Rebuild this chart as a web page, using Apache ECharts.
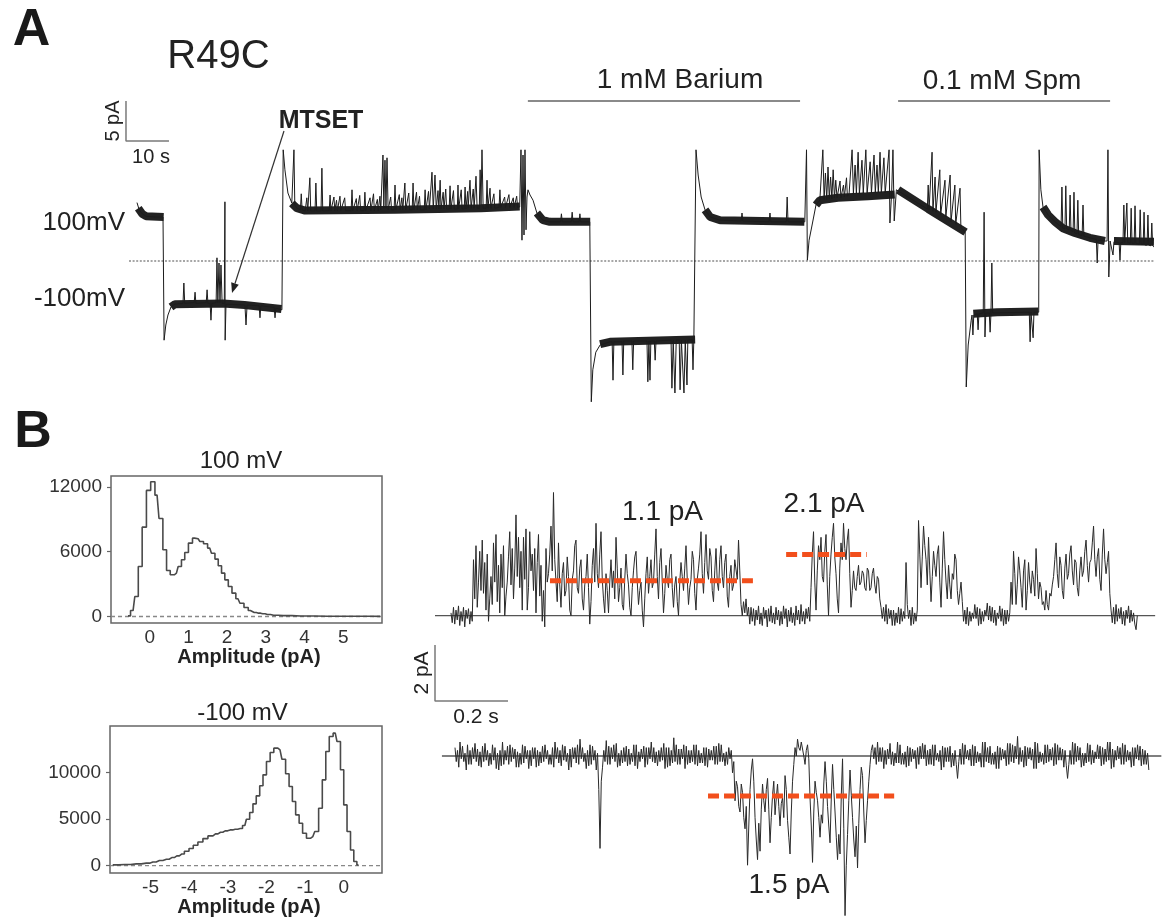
<!DOCTYPE html>
<html><head><meta charset="utf-8">
<script src="https://cdn.jsdelivr.net/npm/echarts@6/dist/echarts.min.js"></script>
<style>html,body{margin:0;padding:0;background:#fff}#c{width:1165px;height:918px}</style>
</head><body><div id="c"></div>
<script>
// ---------------- DATA ----------------
// Panel A: macroscopic trace, [time (s), current (pA)]
const traceA = [
 [0,7.3],[0.5,6.4],[1.2,5.9],[2.1,5.6],[4,5.5],[6.05,5.5],
 [6.28,5.5],[6.3,-9.9],
 [6.7,-8.0],[7.2,-6.75],[7.9,-5.75],[8.8,-5.4],
 [10.7,-5.3],[10.9,-2.75],[11.1,-5.3],
 [13.3,-5.2],[13.5,-3.9],[13.7,-5.3],
 [16.1,-5.2],[16.3,-3.6],[16.5,-5.3],
 [17.0,-5.3],[17.2,-7.4],[17.4,-5.3],
 [18.4,-5.2],[18.6,0.4],[18.8,-5.2],[19.07,-0.25],[19.3,-5.2],[19.53,-0.5],[19.8,-5.3],
 [20.3,-5.3],[20.45,7.4],[20.5,-9.9],[20.7,-5.4],
 [25.1,-5.5],[25.35,-8.0],[25.6,-5.5],
 [28.4,-5.6],[28.6,-7.1],[28.8,-5.6],
 [31.9,-5.8],[32.1,-7.1],[32.3,-5.9],
 [33.7,-6.1],[33.95,-6.1],[34.0,13.9],
 [34.4,11.4],[35.1,8.5],[36.0,7.25],
 [36.3,7.0],[36.5,13.9],[36.7,7.0],
 [37.2,6.6],[38.0,6.4],[38.2,8.4],[38.4,6.4],[39.1,6.25],[39.5,7.9],[39.7,6.25],
 [40.0,6.25],[40.2,10.4],[40.4,6.25],
 [41.4,6.25],[41.6,9.75],[41.8,6.25],
 [42.8,6.25],[43.0,11.6],[43.2,6.25],
 [44.7,6.3],[44.9,8.25],[45.1,6.3],[45.8,8.0],[46.0,6.3],[46.4,7.6],[46.6,6.3],
 [47.0,6.3],[47.2,8.1],[47.4,6.3],[48.3,7.9],[48.5,6.3],
 [49.8,6.3],[50.0,8.9],[50.2,6.3],[51.0,7.8],[51.2,6.3],[51.8,8.2],[52.0,6.3],
 [52.8,6.3],[53.0,8.6],[53.2,6.3],[54.2,7.9],[54.4,6.3],[55.0,8.4],[55.2,6.3],[55.9,7.7],[56.1,6.3],[56.5,8.1],[56.7,6.4],
 [57.0,6.4],[57.2,13.25],[57.4,6.6],[57.67,12.6],[57.9,6.6],[58.14,12.9],[58.4,6.4],[59.0,8.0],[59.2,6.4],
 [59.8,6.4],[60.0,9.5],[60.2,6.4],[61.0,8.3],[61.2,6.4],[61.6,7.9],[61.8,6.4],
 [62.1,6.4],[62.3,9.75],[62.5,6.4],[63.2,8.5],[63.4,6.4],
 [64.0,6.4],[64.2,9.75],[64.4,6.4],[65.0,8.6],[65.2,6.4],[65.7,8.1],[65.9,6.4],
 [66.8,6.4],[67.0,8.9],[67.2,6.4],[67.8,8.7],[68.0,6.5],
 [68.4,6.5],[68.6,11.1],[68.9,6.5],[69.3,10.75],[69.6,6.5],[70.0,8.8],[70.2,6.5],
 [70.3,6.5],[70.5,10.1],[70.7,6.5],[71.2,8.6],[71.4,6.5],[71.8,9.0],[72.0,6.5],
 [72.6,6.5],[72.8,9.4],[73.0,6.5],[73.6,8.8],[73.8,6.5],
 [74.5,6.5],[74.65,9.5],[74.8,6.5],[75.4,8.9],[75.6,6.5],
 [76.1,6.5],[76.3,9.25],[76.5,6.5],[76.9,8.7],[77.0,6.6],
 [77.2,6.6],[77.44,10.1],[77.7,6.6],[78.2,9.0],[78.4,6.6],
 [78.6,6.6],[78.84,10.6],[79.1,6.6],
 [79.6,6.6],[79.8,11.4],[80.0,7.0],[80.23,13.9],[80.5,6.6],
 [81.2,6.6],[81.4,10.1],[81.6,6.6],
 [81.9,6.6],[82.1,9.1],[82.3,6.6],[83.0,8.4],[83.2,6.6],
 [84.2,6.7],[84.4,8.9],[84.6,6.7],[85.5,8.0],[85.7,6.7],[86.5,8.3],[86.7,6.7],[87.5,7.9],[87.7,6.7],[88.3,8.1],[88.5,6.7],
 [89.0,6.75],[89.3,13.9],[89.53,2.6],[89.77,13.25],[90.0,3.25],[90.23,13.9],[90.47,3.9],[90.7,8.0],[90.93,8.9],
 [91.4,8.25],[92.1,7.6],[93.0,6.0],[94.4,5.1],[96.0,4.9],
 [98.5,4.9],[98.7,5.9],[98.9,4.9],
 [101.0,4.9],[101.2,6.1],[101.4,4.9],
 [102.8,4.9],[103.0,5.9],[103.2,4.9],
 [105.3,4.9],[105.6,4.9],[105.65,-17.6],
 [106.0,-13.6],[106.7,-11.4],[107.7,-10.5],[110.0,-10.1],
 [110.5,-10.1],[110.7,-14.9],[110.9,-10.1],
 [112.8,-10.1],[113.0,-14.25],[113.2,-10.0],
 [115.1,-10.0],[115.3,-13.6],[115.5,-10.0],
 [118.6,-10.0],[118.8,-15.1],[119.05,-10.0],[119.3,-14.9],[119.5,-10.0],
 [120.3,-10.0],[120.5,-12.4],[120.7,-10.0],
 [124.2,-9.9],[124.4,-15.9],[124.7,-9.9],[125.1,-16.5],[125.4,-9.9],
 [126.1,-9.9],[126.3,-16.1],[126.6,-9.9],[127.2,-16.5],[127.5,-9.9],[127.9,-15.5],[128.1,-9.9],
 [129.1,-9.8],[129.3,-13.6],[129.5,-9.8],
 [129.9,-9.8],[130.0,13.9],
 [130.5,10.75],[131.2,8.0],[132.1,6.4],[133.3,5.5],[135.6,5.1],
 [140.5,5.0],[140.7,6.0],[140.9,5.0],
 [147.0,4.9],[147.2,6.0],[147.4,4.9],
 [151.0,4.9],[151.2,8.0],[151.4,4.9],
 [155.3,4.9],[155.7,13.9],[155.9,0.1],
 [156.3,2.6],[157.0,4.5],[157.9,7.0],[158.8,7.6],
 [159.2,7.6],[159.5,13.9],[159.8,7.7],[160.1,11.0],[160.4,7.7],[160.7,11.75],[161.0,7.8],[161.3,10.5],[161.6,7.8],[161.9,11.4],[162.2,7.9],[162.5,10.1],[162.8,7.9],
 [163.5,10.0],[163.7,7.9],[164.3,9.5],[164.5,8.0],[165.0,10.4],[165.2,8.1],
 [165.6,8.4],[166.3,13.9],[166.6,8.4],[167.0,12.0],[167.3,8.4],[167.7,13.6],[168.0,8.4],[168.6,12.6],[168.9,8.5],[169.5,13.9],[169.8,8.5],[170.5,12.4],[170.8,8.5],[171.4,13.25],[171.7,8.5],[172.1,12.0],[172.4,8.5],[172.8,13.6],[173.1,8.5],[173.7,12.9],[174.0,8.5],
 [174.4,8.4],[174.9,13.9],[175.1,4.75],[175.5,8.5],[175.8,13.9],[176.1,5.0],[176.3,5.1],[176.6,8.9],
 [177.0,8.9],
 [183.8,6.5],[184.0,9.5],[184.2,6.4],[184.9,13.6],[185.1,6.2],[185.6,10.5],[185.8,6.1],[186.7,11.4],[186.9,5.8],[187.9,10.1],[188.1,5.5],[189.1,10.75],[189.3,4.9],[190.2,9.5],[190.4,4.6],[191.4,9.1],[191.6,4.2],
 [192.6,3.6],[192.8,3.5],[192.85,-15.75],
 [193.3,-10.5],[194.0,-7.4],[194.2,-6.75],[194.4,-9.25],[194.6,-6.75],[195.4,-6.6],[195.6,-8.6],[195.8,-6.6],[196.8,-6.5],[197.0,6.1],[197.2,-9.5],[197.4,-6.5],[198.2,-6.5],[198.4,-8.9],[198.6,-6.5],[198.8,-0.25],[199.0,-6.5],
 [207.5,-6.4],[207.7,-10.1],[207.9,-6.4],[208.4,-9.6],[208.6,-6.4],
 [209.7,-6.4],[209.8,13.9],
 [210.2,8.9],[210.7,6.75],[211.9,5.75],[213.5,4.9],
 [214.9,4.3],[215.1,9.25],[215.3,4.1],[215.8,4.0],[216.0,9.4],[216.2,4.0],[216.8,3.9],[217.0,8.25],[217.2,3.8],[217.7,3.7],[217.9,8.6],[218.1,3.5],[218.6,3.4],[218.8,7.6],[219.0,3.3],[219.8,3.2],[220.0,7.0],[220.2,3.1],
 [221.6,2.9],[223.1,2.7],[223.3,-0.25],[223.5,2.6],
 [225.1,2.5],[225.6,2.5],[225.8,13.9],[226.0,-2.0],[226.3,2.5],[226.98,0.75],[227.2,2.4],
 [228.4,2.3],[228.6,0.1],[228.8,2.3],
 [229.3,2.3],[229.5,7.0],[229.7,2.3],[230.0,2.3],[230.2,7.25],[230.4,2.3],[231.0,2.2],[231.2,6.6],[231.4,2.2],[231.9,2.2],[232.1,6.9],[232.3,2.2],[233.1,2.1],[233.3,6.4],[233.5,2.1],[234.0,2.1],[234.2,6.1],[234.4,2.0],[234.9,2.0],[235.1,5.75],[235.3,2.0],[235.8,1.9],[236.0,4.75],[236.2,1.9],[236.5,1.75]
];
// Panel A: noise band centre lines, one list per recording segment
const bandA = [
 [[0.3,6.6],[1.2,5.9],[2.1,5.6],[6.2,5.5]],
 [[7.9,-5.75],[8.8,-5.4],[20,-5.3],[25,-5.5],[33.6,-6.0]],
 [[36.0,7.2],[37.2,6.6],[39.1,6.3],[60,6.4],[80,6.6],[89,6.8]],
 [[93.0,6.0],[94.4,5.1],[96.0,4.9],[105.4,4.9]],
 [[107.7,-10.4],[110.0,-10.1],[129.8,-9.8]],
 [[132.1,6.4],[133.3,5.5],[135.6,5.1],[155.2,4.9]],
 [[157.9,7.0],[158.8,7.6],[163,7.9],[170,8.1],[176.2,8.3]],
 [[177.0,8.9],[184.0,6.5],[189.1,4.8],[192.7,3.6]],
 [[194.5,-6.6],[200,-6.4],[209.6,-6.3]],
 [[210.7,6.75],[211.9,5.75],[213.5,4.9],[215.3,4.1],[218.1,3.5],[221.6,2.9],[225.1,2.5]],
 [[227.2,2.5],[236.5,2.4]]
];
const scaleBarA = [[-2.56,20],[-2.56,15],[7.44,15]];   // 5 pA, 10 s
const zeroLineA = [[-1.86,0],[236.7,0]];
const bariumBar = [[90.9,20],[154.2,20]];
const spmBar = [[177.0,20],[226.3,20]];

// Panel B histograms
const hist100Centers = [-0.56,-0.43,-0.34,-0.25,-0.14,-0.03,0.08,0.19,0.29,0.39,0.48,0.58,0.69,0.78,0.86,0.95,1.05,1.16,1.25,1.34,1.44,1.55,1.64,1.73,1.81,1.90,1.98,2.08,2.17,2.28,2.38,2.49,2.60,2.70,2.81,2.92,3.04,3.20,3.45,3.90,4.60,5.50,5.95];
const hist100Counts = [60,550,1850,4630,8270,11670,12470,11230,9070,6170,4260,3860,4010,4630,5250,5920,6790,7250,7190,6940,6730,6330,5860,5310,4690,4010,3390,2780,2160,1640,1230,830,550,370,310,250,190,120,80,50,30,20,15];
const hist100XTicks = [0,1,2,3,4,5];
const hist100YTicks = [0,6000,12000];

const histM100Centers = [-5.98,-5.67,-5.37,-5.11,-4.94,-4.77,-4.59,-4.45,-4.32,-4.19,-4.06,-3.95,-3.84,-3.71,-3.58,-3.45,-3.32,-3.19,-3.07,-2.94,-2.81,-2.68,-2.56,-2.48,-2.39,-2.31,-2.22,-2.13,-2.05,-1.95,-1.86,-1.76,-1.65,-1.55,-1.46,-1.37,-1.29,-1.20,-1.11,-1.02,-0.91,-0.80,-0.70,-0.60,-0.51,-0.42,-0.33,-0.22,-0.13,-0.04,0.04,0.13,0.22,0.30,0.38];
const histM100Counts = [70,110,180,260,390,540,680,860,1040,1250,1540,1830,2190,2540,2900,3190,3400,3580,3730,3830,3910,3980,4300,4980,5700,6630,7490,8570,9750,11180,12150,12620,12440,11430,9860,8490,6880,5450,4550,3480,2940,3120,3660,6160,9210,12260,13870,14230,13330,10290,6520,3660,1680,430,70];
const histM100XTicks = [-5,-4,-3,-2,-1,0];
const histM100YTicks = [0,5000,10000];

// Panel B single-channel traces (pA), one sample every B_DT seconds
const B_DT = 0.003425;
const B1_T0 = 0.0438;
const traceB1 = [
 0.1,-0.25,0.3,-0.3,0.2,-0.15,0.35,-0.35,0.15,-0.2,0.3,-0.4,0.2,-0.1,0.25,-0.3,0.15,-0.2,
 2.0,0.6,2.5,0.3,1.2,2.3,0.9,2.7,0.8,1.9,0.2,2.2,-0.2,0.6,1.4,0.4,2.6,1.2,2.9,0.5,1.8,0.1,2.2,1.0,2.5,0.0,0.7,1.2,2.1,3.0,1.1,2.4,0.6,1.7,3.6,1.4,2.8,1.0,2.3,0.2,2.8,1.3,3.1,0.2,1.0,3.0,1.6,2.2,0.9,2.4,0.1,1.9,2.9,0.7,1.8,-0.2,0.9,-0.4,
 2.4,1.2,1.5,2.2,3.2,1.6,4.4,2.0,1.2,0.5,
 2.6,1.1,0.3,1.5,1.9,0.7,0.9,2.1,1.4,0.2,
 0.0,1.3,1.6,2.5,2.7,1.0,0.8,1.7,2.0,0.6,
 0.2,1.1,1.4,2.2,1.0,-0.3,0.5,1.8,2.4,1.2,
 3.3,1.5,1.0,2.2,3.0,1.3,0.6,0.1,1.5,0.9,
 0.1,1.2,2.0,1.0,1.6,0.6,2.8,1.7,0.5,1.0,
 1.7,0.4,0.2,1.3,2.2,1.5,1.1,0.3,0.0,1.0,
 1.6,2.1,2.3,1.2,0.4,0.9,1.2,0.2,-0.4,0.6,
 1.5,2.1,0.8,1.4,2.0,1.0,1.2,2.2,3.1,1.4,
 0.6,1.9,2.4,1.2,0.1,0.8,1.8,1.3,1.0,2.0,
 2.2,1.0,0.3,1.1,1.4,0.5,0.0,1.2,1.9,1.4,
 0.9,1.7,2.5,1.3,0.4,1.0,1.3,2.3,2.0,0.8,
 0.2,1.3,1.7,2.2,3.0,1.5,0.8,1.9,2.9,1.6,
 1.3,2.4,2.1,0.9,0.5,1.6,2.4,1.2,0.9,2.0,
 2.5,1.4,1.0,1.9,2.2,0.7,0.3,1.4,1.8,0.9,
 1.1,2.0,2.0,1.3,2.7,1.6,0.4,0.0,
 0.5,0.1,0.6,0.0,0.3,-0.3,0.3,-0.2,0.25,-0.35,
 0.2,-0.15,0.35,-0.3,0.1,-0.35,0.3,-0.1,0.2,-0.4,
 0.25,-0.2,0.35,-0.25,0.1,-0.3,0.3,-0.15,0.2,-0.35,
 0.15,-0.3,0.35,-0.1,0.25,-0.4,0.2,-0.2,0.3,-0.25,
 0.1,-0.35,0.35,-0.15,0.2,-0.3,0.4,-0.2,0.15,-0.3,
 0.25,-0.1,0.3,-0.2,
 1.0,2.2,3.0,1.2,0.2,1.6,2.5,2.0,2.8,1.4,
 1.2,2.3,2.9,1.1,0.0,1.4,2.2,2.8,3.3,2.1,
 1.5,0.6,0.1,1.7,2.6,2.0,3.3,2.4,2.0,2.7,
 3.1,1.5,0.3,0.9,1.6,1.0,0.9,1.4,1.8,1.1,
 1.2,1.6,
 1.5,1.0,0.9,1.7,1.6,0.9,1.0,1.5,1.7,1.1,0.8,1.4,1.3,0.6,
 0.3,-0.1,0.3,-0.2,0.4,-0.3,0.25,-0.1,0.2,-0.35,
 0.2,-0.35,0.1,-0.25,0.3,-0.3,0.25,-0.2,0.15,-0.1,
 1.9,0.4,-0.1,0.2,-0.35,0.3,-0.3,0.1,-0.2,0.2,
 3.4,2.2,1.0,2.1,3.2,2.5,2.0,1.1,2.8,1.6,
 0.5,1.4,2.3,1.8,1.4,2.2,2.5,1.2,0.3,1.7,
 3.0,2.0,1.2,0.6,1.8,1.1,0.6,1.5,1.3,2.2,
 2.0,0.9,0.4,0.8,1.2,0.5,
 -0.2,0.2,-0.3,0.3,-0.35,0.15,-0.2,0.1,-0.1,0.4,
 -0.1,0.3,-0.35,0.25,-0.3,0.15,-0.2,0.2,0.0,0.45,
 -0.15,0.35,-0.2,0.3,-0.25,0.2,-0.35,0.1,-0.1,0.35,
 -0.2,0.25,-0.35,0.2,-0.3,0.2,-0.2,0.1,
 1.2,0.4,2.3,1.5,0.4,1.1,2.1,1.6,1.0,0.3,
 1.6,2.0,0.2,0.9,1.9,1.2,0.8,1.6,1.3,0.7,
 2.4,1.5,0.6,1.2,1.0,0.4,
 0.5,0.2,0.9,0.4,0.2,0.8,0.7,1.1,
 1.4,2.0,2.6,1.5,1.0,2.1,1.8,0.9,0.6,1.7,
 2.2,1.3,1.5,2.2,2.5,1.6,1.1,2.0,1.9,1.0,
 0.7,1.6,2.1,1.4,1.6,2.3,2.7,1.8,1.2,1.9,
 2.0,2.6,3.2,2.0,1.4,2.1,2.4,1.3,0.9,2.2,
 3.1,2.0,1.5,1.9,2.3,0.8,
 0.2,-0.25,0.3,-0.3,0.4,-0.2,0.25,-0.1,0.3,-0.3,
 0.15,-0.35,0.2,-0.1,0.35,-0.25,0.2,-0.2,0.1,-0.3,
 -0.5,0.0
];
const B2_T0 = 0.0548;
const traceB2 = [
 0.3,-0.2,0.2,-0.4,0.5,-0.1,0.35,-0.2,0.1,-0.5,
 0.4,-0.3,0.2,-0.3,0.3,-0.1,0.45,-0.2,0.25,-0.35,
 0.15,-0.4,0.35,-0.2,0.45,-0.15,0.2,-0.35,0.1,-0.3,
 0.4,-0.15,0.3,-0.45,0.1,-0.5,0.2,-0.35,0.5,-0.3,
 0.2,-0.15,0.35,-0.3,0.4,-0.2,0.3,-0.1,0.25,-0.4,
 0.15,-0.4,0.1,-0.3,0.4,-0.25,0.35,-0.1,0.2,-0.45,
 0.2,-0.35,0.3,-0.1,0.3,-0.4,0.2,-0.35,0.15,-0.25,
 0.35,-0.2,0.4,-0.1,0.2,-0.3,0.05,-0.3,0.3,-0.4,
 0.5,-0.1,0.3,-0.25,0.2,-0.35,0.4,-0.15,0.35,-0.2,
 0.1,-0.5,0.25,-0.4,0.3,-0.1,0.3,-0.25,0.4,-0.3,
 0.6,-0.1,0.3,-0.2,0.1,-0.45,0.2,-0.35,0.4,-0.3,
 0.35,-0.15,0.2,-0.5,0.1,-1.2,-3.3,-0.9,-0.4,0.2,
 -0.2,0.55,-0.3,0.35,-0.3,0.3,-0.1,0.4,-0.2,0.45,
 -0.4,0.1,-0.35,0.2,-0.25,0.3,-0.2,0.35,-0.35,0.25,
 -0.3,0.1,-0.2,0.4,-0.35,0.4,-0.45,0.15,-0.2,0.25,
 -0.1,0.35,-0.4,0.3,-0.3,0.3,-0.1,0.5,-0.2,0.3,
 -0.25,0.15,-0.35,0.2,-0.2,0.3,-0.15,0.45,-0.45,0.3,
 -0.4,0.3,-0.35,0.2,-0.25,0.65,-0.2,0.4,-0.3,0.25,
 -0.3,0.25,-0.1,0.4,-0.45,0.35,-0.3,0.2,-0.25,0.2,
 -0.2,0.4,-0.3,0.4,-0.35,0.2,-0.25,0.1,-0.25,0.3,
 -0.35,0.3,-0.4,0.25,-0.15,0.2,-0.15,0.35,-0.3,0.35,
 -0.3,0.45,-0.2,0.4,-0.2,0.1,-0.35,0.15,-0.3,0.3,
 -0.1,0.2,
 -0.6,-0.2,-1.6,-0.9,-1.1,-1.8,-2.0,-1.0,-1.3,-2.2,
 -2.6,-1.8,-3.9,-2.5,-1.2,-0.5,-0.1,-0.9,-2.2,-3.0,
 -3.7,-2.4,-3.4,-1.9,-1.0,-1.6,-2.0,-1.2,-0.8,-1.9,
 -3.1,-2.2,-1.4,-0.9,-2.1,-1.5,-1.0,-1.8,-2.5,-1.7,
 -1.5,-2.2,-0.7,-1.2,-2.3,-2.9,-3.5,-2.0,-0.9,-0.3,
 0.3,0.0,0.6,0.3,0.2,0.5,0.5,0.0,-0.3,0.2,
 0.4,-0.1,
 -1.5,-2.5,-3.8,-2.0,-0.9,-1.3,-1.6,-2.2,-2.9,-2.1,
 -2.4,-1.0,-0.2,-0.9,-1.8,-2.5,-3.1,-1.5,-0.3,-1.2,
 -2.0,-2.9,-3.7,-2.8,-3.5,-1.4,-0.1,-2.6,-5.7,-3.9,
 -2.8,-1.6,-0.5,-1.4,-2.2,-3.0,-3.6,-2.5,-4.0,-2.4,
 -1.2,-0.4,-0.7,-2.0,-3.1,-2.3,-1.6,-0.9,-0.3,0.2,
 0.4,-0.1,0.3,-0.3,0.5,-0.2,0.3,-0.2,0.3,-0.45,
 0.2,-0.3,0.25,-0.1,0.45,-0.3,0.15,-0.35,0.1,-0.25,
 0.5,-0.25,0.4,-0.3,0.1,-0.3,0.15,-0.4,0.35,-0.35,
 0.3,-0.2,0.25,-0.1,0.2,-0.45,0.3,-0.3,0.35,-0.1,
 0.45,-0.1,0.4,-0.35,0.2,-0.3,0.25,-0.3,0.4,-0.35,
 0.4,-0.15,0.1,-0.2,0.2,-0.5,0.35,-0.4,0.3,-0.2,
 0.3,-0.2,0.35,-0.4,0.1,-0.35,0.2,-0.3,-0.8,-0.2,
 0.25,-0.3,0.45,-0.3,0.4,-0.1,0.2,-0.15,0.25,-0.35,
 0.4,-0.35,0.35,-0.25,0.15,-0.2,0.1,-0.4,0.5,-0.4,
 0.5,-0.2,0.3,-0.25,0.35,-0.3,0.1,-0.3,0.15,-0.45,
 0.35,-0.45,0.3,-0.15,0.25,-0.1,0.2,-0.35,0.45,-0.3,
 0.45,-0.2,0.4,-0.25,0.35,-0.1,0.7,-0.3,0.3,-0.2,
 0.2,-0.4,0.35,-0.35,0.3,-0.1,0.3,-0.15,0.25,-0.45,
 0.5,-0.45,0.45,-0.25,0.15,-0.2,0.1,-0.3,0.4,-0.25,
 0.4,-0.2,0.25,-0.15,0.3,-0.35,0.45,-0.3,0.4,-0.15,
 0.3,-0.15,0.25,-0.4,0.2,-0.35,-0.8,-0.3,0.2,-0.3,
 0.5,-0.3,0.45,-0.2,0.35,-0.15,0.3,-0.4,0.1,-0.35,
 0.1,-0.25,0.45,-0.2,0.4,-0.3,0.2,-0.25,0.15,-0.1,
 0.4,-0.1,0.35,-0.35,0.3,-0.3,0.25,-0.2,0.5,-0.15,
 0.5,-0.45,0.25,-0.4,0.2,-0.15,0.35,-0.1,0.3,-0.3,
 0.45,-0.3,0.4,-0.2,0.2,-0.15,0.15,-0.4,0.3,-0.35,
 0.3,-0.1,0.4,-0.15,0.35,-0.35,0.25,-0.3,0.2,-0.3,
 0.1,-0.5
];
const baseB1 = [[0,0],[1.973,0]];
const baseB2 = [[0.019,0],[1.99,0]];
const scaleBarB = [[0,-1.05],[0,-3.05],[0.2,-3.05]];  // 2 pA, 0.2 s
const levelB1a = [[0.315,1.25],[0.871,1.25]];   // "1.1 pA"
const levelB1b = [[0.962,2.19],[1.183,2.19]];   // "2.1 pA"
const levelB2 = [[0.748,-1.43],[1.258,-1.43]];  // "1.5 pA"

// ---------------- CHART ----------------
const FONT = '"Liberation Sans", Arial, Helvetica, sans-serif';
const TXT = '#222';
const chart = echarts.init(document.getElementById('c'), null, {renderer:'canvas'});

function lineS(data, xi, color, width, extra) {
  return Object.assign({type:'line', xAxisIndex:xi, yAxisIndex:xi, data:data, symbol:'none',
    silent:true, animation:false, clip:false,
    lineStyle:{color:color, width:width}}, extra || {});
}
const hiddenAxis = (gi, min, max) => ({gridIndex:gi, type:'value', min:min, max:max, show:false});

const grids = [
  {left:119.8, top:101, width:1036.3, height:320},
  {left:111, top:476, width:271, height:147, show:true, borderColor:'#666', borderWidth:1.5, backgroundColor:'transparent'},
  {left:110, top:726, width:272, height:147, show:true, borderColor:'#666', borderWidth:1.5, backgroundColor:'transparent'},
  {left:435, top:475.7, width:730, height:229.6},
  {left:435, top:728, width:730, height:190.4}
].map(g => Object.assign({containLabel:false, outerBoundsMode:'none'}, g));

const labStyle = {fontFamily:FONT, fontSize:19, color:'#333', formatter:(v)=>String(v)};
const histX = (gi, min, max, ticks) => ({gridIndex:gi, type:'value', min:min, max:max,
  axisLine:{show:false, onZero:false}, splitLine:{show:false}, axisTick:{show:false},
  axisLabel:Object.assign({customValues:ticks, margin:5}, labStyle)});
const histY = (gi, min, max, ticks) => ({gridIndex:gi, type:'value', min:min, max:max,
  axisLine:{show:false, onZero:false}, splitLine:{show:false},
  axisTick:{show:true, customValues:ticks, length:4, lineStyle:{color:'#666', width:1.2}},
  axisLabel:Object.assign({customValues:ticks, margin:9}, labStyle)});

const xAxes = [hiddenAxis(0,-4,237), histX(1,-1,6,hist100XTicks), histX(2,-6.05,0.99,histM100XTicks), hiddenAxis(3,0,2), hiddenAxis(4,0,2)];
const yAxes = [hiddenAxis(0,-20,20), histY(1,-600,13000,hist100YTicks), histY(2,-800,15000,histM100YTicks), hiddenAxis(3,-3.2,5), hiddenAxis(4,-5.8,1)];

const series = [];
series.push(lineS(zeroLineA, 0, '#8a8a8a', 1.3, {lineStyle:{color:'#8a8a8a', width:1.3, type:[2,1.6]}, z:1}));
bandA.forEach(seg => series.push(lineS(seg, 0, '#222', 8, {z:2})));
series.push(lineS(traceA, 0, '#1c1c1c', 1, {z:3}));
series.push(lineS(scaleBarA, 0, '#7a7a7a', 1.5));
series.push(lineS(bariumBar, 0, '#8a8a8a', 2));
series.push(lineS(spmBar, 0, '#8a8a8a', 2));
series.push(lineS([[-1,0],[6,0]], 1, '#888', 1.3, {lineStyle:{color:'#888', width:1.3, type:[4,3]}}));
series.push(lineS(hist100Centers.map((c,i)=>[c, hist100Counts[i]]), 1, '#4a4a4a', 1.6, {step:'middle', clip:true}));
series.push(lineS([[-6.05,0],[0.99,0]], 2, '#888', 1.3, {lineStyle:{color:'#888', width:1.3, type:[4,3]}}));
series.push(lineS(histM100Centers.map((c,i)=>[c, histM100Counts[i]]), 2, '#4a4a4a', 1.6, {step:'middle', clip:true}));
series.push(lineS(baseB1, 3, '#555', 1.3, {z:1}));
series.push(lineS(traceB1.map((v,i)=>[B1_T0 + i*B_DT, v]), 3, '#2a2a2a', 1, {z:2}));
series.push(lineS(scaleBarB, 3, '#7a7a7a', 1.5));
series.push(lineS(levelB1a, 3, '#f24f1c', 5, {lineStyle:{color:'#f24f1c', width:5, type:[11,5]}, z:5}));
series.push(lineS(levelB1b, 3, '#f24f1c', 5, {lineStyle:{color:'#f24f1c', width:5, type:[11,5]}, z:5}));
series.push(lineS(baseB2, 4, '#555', 1.3, {z:1}));
series.push(lineS(traceB2.map((v,i)=>[B2_T0 + i*B_DT, v]), 4, '#2a2a2a', 1, {z:2}));
series.push(lineS(levelB2, 4, '#f24f1c', 5, {lineStyle:{color:'#f24f1c', width:5, type:[11,5]}, z:5}));

function txt(text, x, y, size, opts) {
  opts = opts || {};
  return {type:'text', x:x, y:y, rotation:opts.rot || 0, z:10, silent:true,
    style:{text:text, x:0, y:0, fill:opts.fill || TXT,
      font:(opts.bold ? 'bold ' : '') + size + 'px ' + FONT,
      textAlign:opts.align || 'center', textVerticalAlign:'middle',
      align:opts.align || 'center', verticalAlign:'middle'}};
}
const graphics = [
  txt('A', 31.5, 30.5, 52, {bold:true, fill:'#1a1a1a'}),
  txt('B', 33, 432.5, 52, {bold:true, fill:'#1a1a1a'}),
  txt('R49C', 218.5, 56.5, 40),
  txt('5 pA', 113, 121, 20, {rot:Math.PI/2}),
  txt('10 s', 151, 157.5, 20),
  txt('MTSET', 321, 121, 25, {bold:true}),
  txt('100mV', 125, 222.5, 26, {align:'right'}),
  txt('-100mV', 125, 299, 26, {align:'right'}),
  txt('1 mM Barium', 680, 80.7, 28),
  txt('0.1 mM Spm', 1002, 81, 28),
  txt('100 mV', 241, 461.5, 24),
  txt('-100 mV', 242.5, 713.5, 24),
  txt('Amplitude (pA)', 249, 657, 20, {bold:true}),
  txt('Amplitude (pA)', 249, 907, 20, {bold:true}),
  txt('2 pA', 422, 673, 21, {rot:Math.PI/2}),
  txt('0.2 s', 476, 717, 21),
  txt('1.1 pA', 662.5, 512.5, 28),
  txt('2.1 pA', 824, 504, 28),
  txt('1.5 pA', 789, 885, 28),
  {type:'line', silent:true, z:10, shape:{x1:284, y1:131, x2:235.0, y2:283.5}, style:{stroke:'#333', lineWidth:1.2}},
  {type:'polygon', silent:true, z:10, shape:{points:[[232,293],[238.8,284.7],[231.2,282.3]]}, style:{fill:'#222'}}
];

chart.setOption({
  animation:false,
  backgroundColor:'#ffffff',
  grid:grids, xAxis:xAxes, yAxis:yAxes, series:series, graphic:graphics
});
</script></body></html>
